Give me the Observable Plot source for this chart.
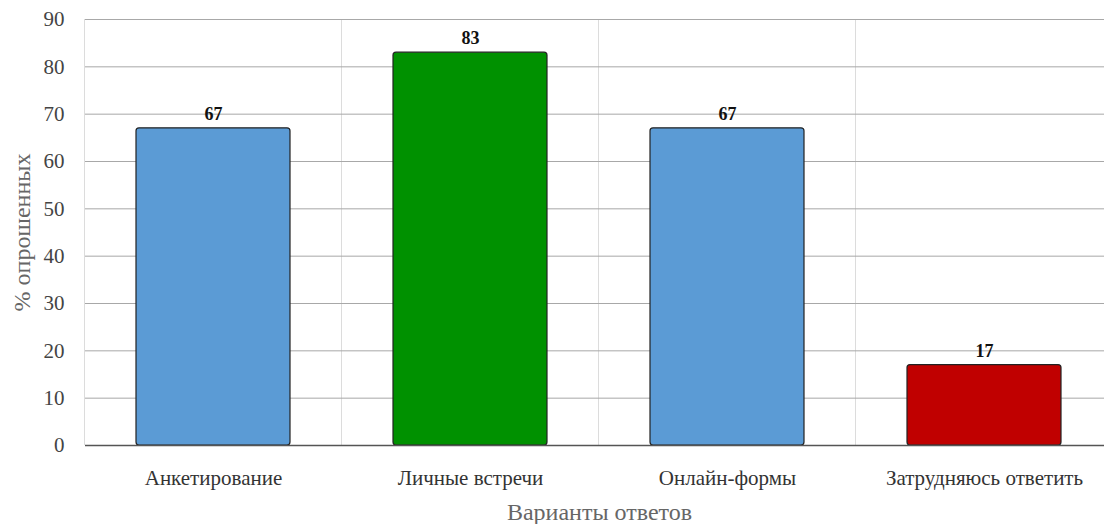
<!DOCTYPE html>
<html><head><meta charset="utf-8">
<script src="https://cdn.jsdelivr.net/npm/d3@7"></script>
<script src="https://cdn.jsdelivr.net/npm/@observablehq/plot@0.6"></script>
<style>
html,body{margin:0;padding:0;background:#fff;overflow:hidden;}
#chart{width:1104px;height:524px;overflow:hidden;}
</style></head>
<body><div id="chart"></div>
<script>
const categories = ["Анкетирование", "Личные встречи", "Онлайн-формы", "Затрудняюсь ответить"];
const values = [67, 83, 67, 17];
const colors = ["#5b9bd5", "#009100", "#5b9bd5", "#c00000"];
const yTicks = [0, 10, 20, 30, 40, 50, 60, 70, 80, 90];
const xTitle = "Варианты ответов";
const yTitle = "% опрошенных";

const data = categories.map((c, i) => ({cat: c, value: values[i], color: colors[i]}));

function bandDividers(index, scales, values, dimensions) {
  const x = scales.x;
  const step = x(categories[1]) - x(categories[0]);
  const bw = x.bandwidth ? x.bandwidth() : step * 0.6;
  const gap = (step - bw) / 2;
  const g = d3.create("svg:g");
  const bounds = categories.map(c => x(c) - gap);
  bounds.push(x(categories[categories.length - 1]) + bw + gap);
  g.selectAll("line").data(bounds).join("line")
    .attr("x1", d => d).attr("x2", d => d)
    .attr("y1", dimensions.marginTop).attr("y2", dimensions.height - dimensions.marginBottom)
    .attr("stroke", "#dcdcdc").attr("stroke-width", 1);
  return g.node();
}

const plot = Plot.plot({
  width: 1113,
  height: 524,
  marginLeft: 85,
  marginRight: 0,
  marginTop: 19,
  marginBottom: 79,
  style: {fontFamily: "'Liberation Serif', serif", fontSize: "21px", color: "#444", background: "#fff"},
  x: {domain: categories, paddingInner: 0.4, paddingOuter: 0.2, label: null},
  y: {domain: [0, 90], ticks: yTicks, label: null},
  marks: [
    bandDividers,
    Plot.gridY(yTicks, {stroke: "#a8a8a8", strokeOpacity: 1}),
    Plot.axisY(yTicks, {tickSize: 0, tickPadding: 21, fontSize: 21, fill: "#444", label: null}),
    Plot.axisX({tickSize: 0, tickPadding: 25, fontSize: 21, fill: "#333", label: null}),
    Plot.barY(data, {x: "cat", y: "value", fill: "color", stroke: "#222", strokeWidth: 1.2, rx: 3}),
    Plot.ruleY([0], {stroke: "#555", strokeWidth: 1.5}),
    Plot.text(data, {x: "cat", y: "value", text: d => String(d.value), dy: -14, fontWeight: "bold", fontSize: 18, fill: "#111"}),
    Plot.text([xTitle], {frameAnchor: "bottom", lineAnchor: "middle", textAnchor: "middle", dy: 67, fontSize: 24, fill: "#666", text: d => d}),
    Plot.text([yTitle], {frameAnchor: "left", lineAnchor: "middle", textAnchor: "middle", dx: -63, rotate: -90, fontSize: 24, fill: "#666", text: d => d})
  ]
});
plot.style.overflow = "visible";
plot.style.maxWidth = "none";
document.getElementById("chart").append(plot);
</script></body></html>
